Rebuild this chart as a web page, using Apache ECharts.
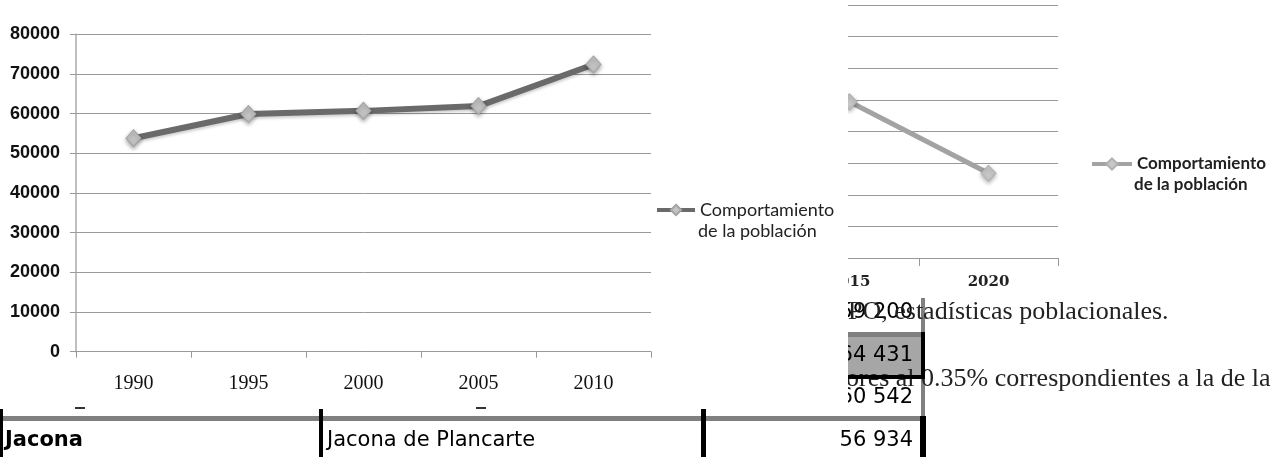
<!DOCTYPE html>
<html>
<head>
<meta charset="utf-8">
<script src="https://cdn.jsdelivr.net/npm/echarts@6.0.0/dist/echarts.min.js"></script>
<style>
  html, body { margin: 0; padding: 0; background: #fff; }
  #main { position: absolute; left: 0; top: 0; width: 1273px; height: 457px; }
  #clip { position: absolute; left: 848px; top: 0; width: 425px; height: 457px; overflow: hidden; }
  #proj { position: absolute; left: -200px; top: 0; width: 625px; height: 457px; }
</style>
</head>
<body>
<div id="main"></div>
<div id="clip"><div id="proj"></div></div>
<script>
// left chart: census years
var years = ['1990', '1995', '2000', '2005', '2010'];
var population = [53800, 59900, 60700, 61900, 72400];
// right chart (only the tail is visible)
var projYears = ['2015', '2020'];
var projection = [49400, 26800];
var seriesName = 'Comportamiento de la población';
var legendLines = ['Comportamiento', 'de la población'];
// table fragments
var tableRow = ['Jacona', 'Jacona de Plancarte', '56 934'];
var cellValues = ['59 200', '64 431', '60 542'];
var noteLines = ['PO, estadísticas poblacionales.', 'ores al 0.35% correspondientes a la de la'];

function firstLine() {
    return legendLines[0];
}

var mainChart = echarts.init(document.getElementById('main'));
mainChart.setOption({
    animation: false,
    grid: { left: 76, right: 622, top: 34.3, bottom: 105.3 },
    legend: {
        data: [seriesName],
        left: 655,
        top: 200,
        padding: 0,
        itemWidth: 38,
        itemHeight: 13,
        formatter: firstLine,
        lineStyle: { width: 4 },
        textStyle: { fontFamily: 'Lato', fontSize: 18, color: '#222', lineHeight: 20 }
    },
    xAxis: {
        type: 'category',
        data: years,
        boundaryGap: true,
        axisLine: { lineStyle: { color: '#999', width: 1 } },
        axisTick: { show: true, length: 6, lineStyle: { color: '#999' } },
        axisLabel: { margin: 22, fontFamily: 'Liberation Serif', fontSize: 20, color: '#111' }
    },
    yAxis: {
        type: 'value',
        min: 0,
        max: 80000,
        interval: 10000,
        axisLine: { show: true, lineStyle: { color: '#aaa', width: 1.5 } },
        axisTick: { show: true, length: 6, lineStyle: { color: '#999' } },
        splitLine: { lineStyle: { color: '#999' } },
        axisLabel: {
            margin: 16, fontFamily: 'Liberation Sans', fontWeight: 'bold', fontSize: 18, color: '#111',
            formatter: function (v) { return String(v); }
        }
    },
    series: [{
        name: seriesName,
        type: 'line',
        data: population,
        symbol: 'diamond',
        symbolSize: [15, 17],
        lineStyle: { color: '#6a6a6a', width: 6, shadowBlur: 3, shadowColor: 'rgba(0,0,0,0.2)', shadowOffsetY: 2 },
        itemStyle: {
            color: '#c4c4c4', borderColor: '#a3a3a3', borderWidth: 1,
            shadowBlur: 4, shadowColor: 'rgba(0,0,0,0.35)', shadowOffsetY: 2
        }
    }],
    graphic: [
        { type: 'text', x: 698, y: 231, style: { text: legendLines[1], fontFamily: 'Lato', fontSize: 18, fill: '#222', verticalAlign: 'middle' } },
        { type: 'rect', shape: { x: 0, y: 416, width: 921, height: 5 }, style: { fill: '#808080' } },
        { type: 'rect', shape: { x: 0, y: 409, width: 3, height: 48 }, style: { fill: '#000' } },
        { type: 'rect', shape: { x: 319, y: 409, width: 4, height: 48 }, style: { fill: '#000' } },
        { type: 'rect', shape: { x: 701, y: 409, width: 5, height: 48 }, style: { fill: '#000' } },
        { type: 'rect', shape: { x: 920, y: 416, width: 6, height: 41 }, style: { fill: '#000' } },
        { type: 'rect', shape: { x: 75, y: 407, width: 10, height: 2 }, style: { fill: '#333' } },
        { type: 'rect', shape: { x: 476, y: 407, width: 10, height: 2 }, style: { fill: '#333' } },
        { type: 'text', x: 5, y: 441, style: { text: tableRow[0], fontFamily: 'DejaVu Sans', fontWeight: 'bold', fontSize: 21, fill: '#000', verticalAlign: 'middle' } },
        { type: 'text', x: 327, y: 441, style: { text: tableRow[1], fontFamily: 'DejaVu Sans', fontSize: 21, fill: '#000', verticalAlign: 'middle' } },
        { type: 'text', x: 913, y: 441, style: { text: tableRow[2], fontFamily: 'DejaVu Sans', fontSize: 21, fill: '#000', align: 'right', verticalAlign: 'middle' } }
    ]
});

// inner coordinates = page x - 648
var projChart = echarts.init(document.getElementById('proj'));
projChart.setOption({
    animation: false,
    grid: { left: 132, right: 215, top: 5, bottom: 199 },
    legend: {
        data: [seriesName],
        left: 442,
        top: 154,
        padding: 0,
        itemWidth: 40,
        itemHeight: 14,
        formatter: firstLine,
        lineStyle: { width: 4 },
        textStyle: { fontFamily: 'Lato', fontWeight: 'bold', fontSize: 17, color: '#222', lineHeight: 20 }
    },
    xAxis: {
        type: 'category',
        data: projYears,
        boundaryGap: true,
        axisLine: { lineStyle: { color: '#999', width: 1 } },
        axisTick: { show: true, length: 8, lineStyle: { color: '#999' } },
        axisLabel: { margin: 17, fontFamily: 'DejaVu Serif', fontWeight: 'bold', fontSize: 15, color: '#222' }
    },
    yAxis: {
        type: 'value',
        min: 0,
        max: 80000,
        interval: 10000,
        axisLine: { show: false },
        axisTick: { show: false },
        axisLabel: { show: false },
        splitLine: { lineStyle: { color: '#999' } }
    },
    series: [{
        name: seriesName,
        type: 'line',
        data: projection,
        symbol: 'diamond',
        symbolSize: [15, 16],
        lineStyle: { color: '#a3a3a3', width: 5 },
        itemStyle: {
            color: '#c8c8c8', borderColor: '#b0b0b0', borderWidth: 1,
            shadowBlur: 4, shadowColor: 'rgba(0,0,0,0.3)', shadowOffsetY: 2
        }
    }],
    graphic: [
        { type: 'text', x: 486, y: 185, style: { text: legendLines[1], fontFamily: 'Lato', fontWeight: 'bold', fontSize: 17, fill: '#222', verticalAlign: 'middle' } },
        { type: 'rect', shape: { x: 273, y: 298, width: 4, height: 118 }, style: { fill: '#808080' } },
        { type: 'rect', shape: { x: 150, y: 337, width: 123, height: 38 }, style: { fill: '#a6a6a6' } },
        { type: 'text', x: 265, y: 313, style: { text: cellValues[0], fontFamily: 'DejaVu Sans', fontSize: 21, fill: '#000', align: 'right', verticalAlign: 'middle' } },
        { type: 'text', x: 265, y: 356, style: { text: cellValues[1], fontFamily: 'DejaVu Sans', fontSize: 21, fill: '#000', align: 'right', verticalAlign: 'middle' } },
        { type: 'text', x: 265, y: 398, style: { text: cellValues[2], fontFamily: 'DejaVu Sans', fontSize: 21, fill: '#000', align: 'right', verticalAlign: 'middle' } },
        { type: 'text', x: 200, y: 312, style: { text: noteLines[0], fontFamily: 'Liberation Serif', fontSize: 26, fill: '#222', verticalAlign: 'middle' } },
        { type: 'text', x: 198, y: 379, style: { text: noteLines[1], fontFamily: 'Liberation Serif', fontSize: 26, fill: '#222', verticalAlign: 'middle' } },
        { type: 'rect', shape: { x: 150, y: 332, width: 127, height: 5 }, style: { fill: '#7f7f7f' } },
        { type: 'rect', shape: { x: 150, y: 375, width: 127, height: 4 }, style: { fill: '#000' } },
        { type: 'rect', shape: { x: 273, y: 332, width: 4, height: 47 }, style: { fill: '#000' } }
    ]
});

window.addEventListener('resize', function () {
    mainChart.resize();
    projChart.resize();
});
</script>
</body>
</html>
